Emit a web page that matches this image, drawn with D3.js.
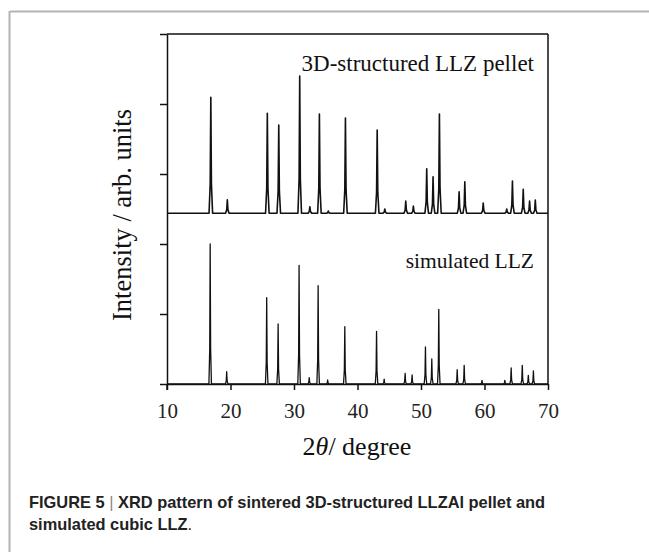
<!DOCTYPE html>
<html><head><meta charset="utf-8">
<script src="https://cdn.jsdelivr.net/npm/d3@7"></script>
<style>html,body{margin:0;padding:0;background:#fff;}svg{display:block;}</style>
</head><body>
<svg id="c" width="649" height="552"></svg>
<script>
// ---- data ----
const xTicks = [10, 20, 30, 40, 50, 60, 70];
const yTicks = [0, 1, 2, 3, 4, 5];
const pelletBaseline = 2.44;
const pelletPos = [16.9,19.5,25.8,27.6,30.9,32.5,34.0,35.4,38.1,43.1,44.3,47.6,48.8,50.9,51.9,52.9,56.0,56.9,59.8,63.5,64.4,66.1,67.1,68.0];
const pelletInt = [1.656,0.19,1.427,1.26,1.96,0.093,1.417,0.031,1.36,1.189,0.06,0.174,0.103,0.636,0.521,1.417,0.307,0.45,0.146,0.06,0.46,0.341,0.174,0.189];
const simBaseline = 0;
const simPos = [16.8,19.4,25.7,27.5,30.8,32.4,33.8,35.3,38.0,43.0,44.2,47.5,48.6,50.7,51.7,52.8,55.7,56.8,59.6,63.2,64.2,65.95,66.9,67.7];
const simInt = [2.0,0.176,1.233,0.857,1.696,0.09,1.404,0.057,0.819,0.753,0.071,0.153,0.129,0.529,0.357,1.067,0.204,0.267,0.053,0.053,0.229,0.267,0.124,0.186];

const svg = d3.select("#c");
// figure frame (light grey)
svg.append("line").attr("x1",10).attr("y1",11.5).attr("x2",649).attr("y2",11.5).attr("stroke","#b3b3b3").attr("stroke-width",2);
svg.append("line").attr("x1",9.5).attr("y1",11).attr("x2",9.5).attr("y2",552).attr("stroke","#b3b3b3").attr("stroke-width",2);

const L=167, R=548, T=34, B=384;
const x = d3.scaleLinear().domain([10,70]).range([L,R]);
const y = d3.scaleLinear().domain([0,5]).range([B,T]);

function profile(pos, inten, base, hw){
  const pts = [[10, base]];
  pos.forEach((p,i)=>{
    pts.push([p-hw, base]);
    pts.push([p-hw*0.35, base+inten[i]*0.25]);
    pts.push([p, base+inten[i]]);
    pts.push([p+hw*0.35, base+inten[i]*0.25]);
    pts.push([p+hw, base]);
  });
  pts.push([70, base]);
  return pts;
}
const line = d3.line().x(d=>x(d[0])).y(d=>y(d[1]));

svg.append("path").attr("d", line(profile(pelletPos, pelletInt, pelletBaseline, 0.28)))
  .attr("fill","none").attr("stroke","#111").attr("stroke-width",1.6).attr("stroke-linejoin","round");
svg.append("path").attr("d", line(profile(simPos, simInt, simBaseline, 0.2)))
  .attr("fill","none").attr("stroke","#111").attr("stroke-width",1.3).attr("stroke-linejoin","round");

// axes
const xa = svg.append("g").attr("transform",`translate(0,${B})`)
  .call(d3.axisBottom(x).tickValues(xTicks).tickSize(6).tickSizeOuter(0).tickFormat(d3.format("d")));
const ya = svg.append("g").attr("transform",`translate(${L},0)`)
  .call(d3.axisLeft(y).tickValues(yTicks).tickSize(7).tickSizeOuter(0).tickFormat(""));
[xa,ya].forEach(g=>{
  g.select(".domain").attr("stroke","#111").attr("stroke-width",1.5);
  g.selectAll(".tick line").attr("stroke","#111").attr("stroke-width",1.5);
});
xa.selectAll(".tick text").attr("font-family","Liberation Serif").attr("font-size",21).attr("fill","#222")
  .attr("y",34).attr("dy",0);
// extend y axis a bit below x axis
svg.append("line").attr("x1",L).attr("x2",L).attr("y1",B).attr("y2",B+6).attr("stroke","#111").attr("stroke-width",1.5);
// top and right frame
svg.append("line").attr("x1",L).attr("x2",R).attr("y1",T).attr("y2",T).attr("stroke","#111").attr("stroke-width",1.5);
svg.append("line").attr("x1",R).attr("x2",R).attr("y1",T).attr("y2",B).attr("stroke","#111").attr("stroke-width",1.5);

// labels
svg.append("text").attr("x",534).attr("y",71).attr("text-anchor","end")
  .attr("font-family","Liberation Serif").attr("font-size",23).attr("fill","#111").text("3D-structured LLZ pellet");
svg.append("text").attr("x",534).attr("y",268).attr("text-anchor","end")
  .attr("font-family","Liberation Serif").attr("font-size",21.5).attr("fill","#111").text("simulated LLZ");

const xl = svg.append("text").attr("x",357).attr("y",455).attr("text-anchor","middle")
  .attr("font-family","Liberation Serif").attr("font-size",26).attr("fill","#111");
xl.append("tspan").text("2");
xl.append("tspan").attr("font-style","italic").text("θ");
xl.append("tspan").text("/ degree");

svg.append("text").attr("transform","translate(131,215) rotate(-90)").attr("text-anchor","middle")
  .attr("font-family","Liberation Serif").attr("font-size",26.5).attr("fill","#111").text("Intensity / arb. units");

// caption
const c1 = svg.append("text").attr("x",29).attr("y",507.5).attr("font-family","Liberation Sans").attr("font-size",16.4).attr("fill","#222");
c1.append("tspan").attr("font-weight","bold").text("FIGURE 5 ");
c1.append("tspan").attr("fill","#888").text("|");
c1.append("tspan").attr("font-weight","bold").text(" XRD pattern of sintered 3D-structured LLZAl pellet and");
const c2 = svg.append("text").attr("x",29).attr("y",530).attr("font-family","Liberation Sans").attr("font-size",16.4).attr("fill","#222");
c2.append("tspan").attr("font-weight","bold").text("simulated cubic LLZ");
c2.append("tspan").text(".");
</script>
</body></html>
